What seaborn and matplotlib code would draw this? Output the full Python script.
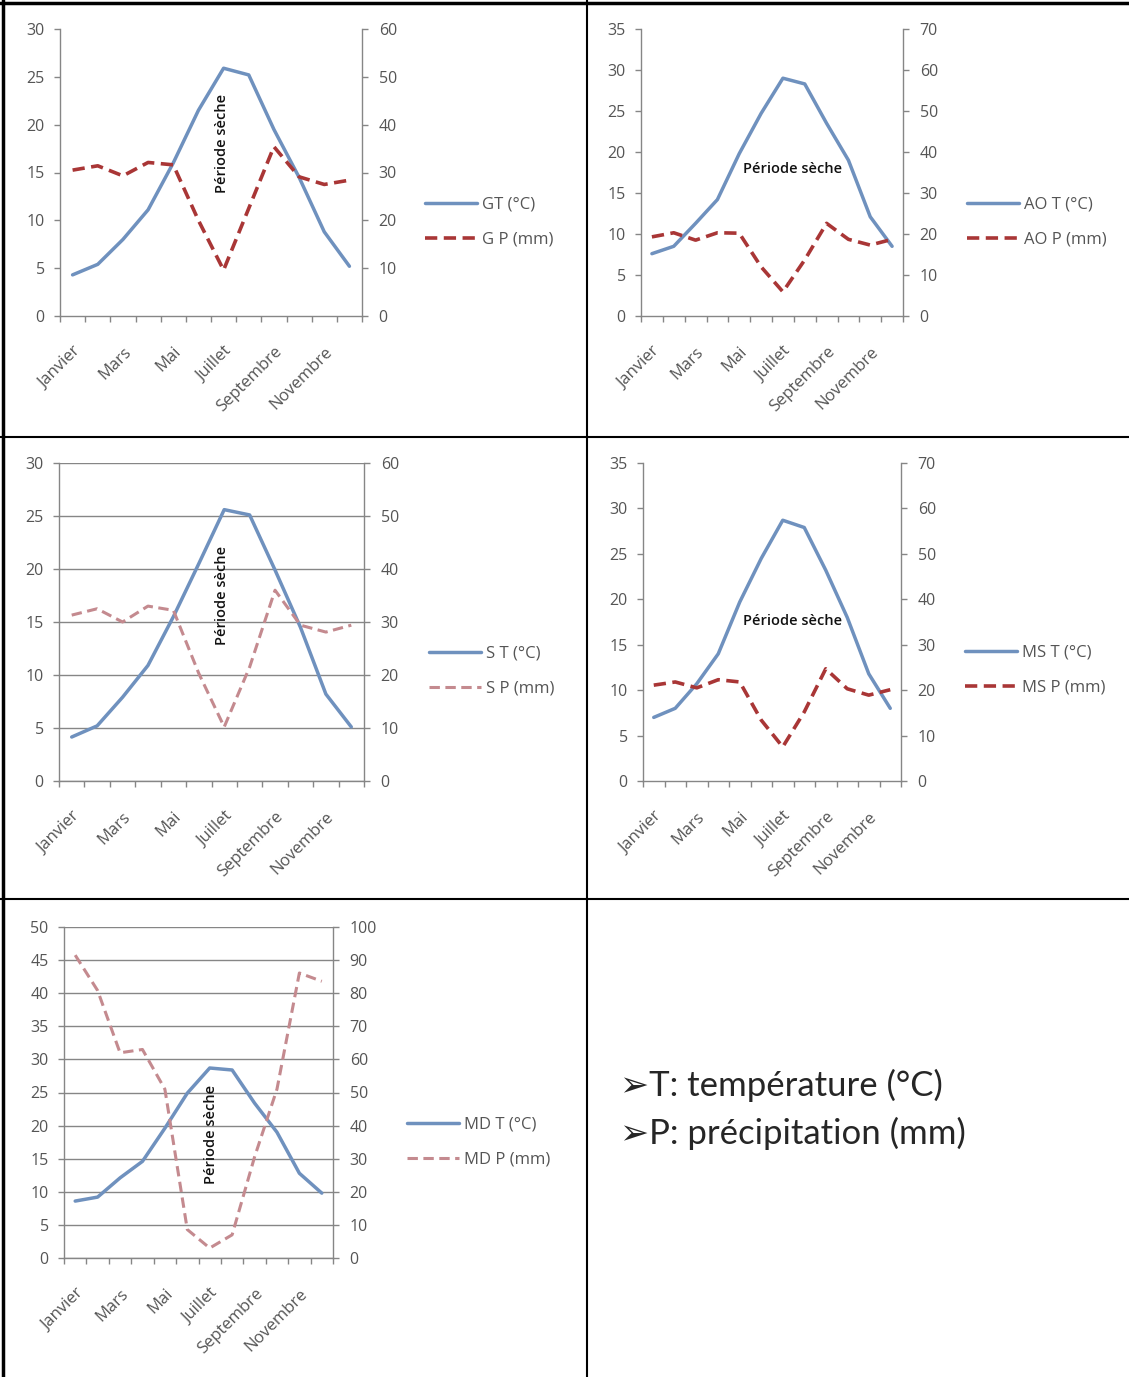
import numpy as np
import pandas as pd
import matplotlib
matplotlib.use("Agg")
import matplotlib.pyplot as plt
from matplotlib.lines import Line2D
import seaborn as sns

# ---------------- data ----------------
months = ["Janvier", "Février", "Mars", "Avril", "Mai", "Juin", "Juillet",
          "Août", "Septembre", "Octobre", "Novembre", "Décembre"]

G_T = [4.3, 5.4, 8.0, 11.1, 16.0, 21.5, 25.9, 25.2, 19.5, 14.5, 8.8, 5.2]
G_P = [30.5, 31.4, 29.3, 32.1, 31.6, 20.0, 9.6, 22.5, 35.4, 29.1, 27.5, 28.4]

AO_T = [7.6, 8.5, 11.3, 14.2, 19.8, 24.7, 29.0, 28.3, 23.5, 19.0, 12.1, 8.5]
AO_P = [19.3, 20.3, 18.5, 20.3, 20.2, 12.0, 5.9, 13.7, 22.6, 18.7, 17.3, 18.7]

S_T = [4.15, 5.2, 7.9, 10.9, 15.5, 20.5, 25.6, 25.1, 19.9, 14.5, 8.2, 5.1]
S_P = [31.3, 32.5, 30.0, 33.0, 32.2, 20.3, 10.2, 21.5, 36.0, 29.4, 28.1, 29.4]

MS_T = [7.0, 8.0, 10.7, 14.0, 19.7, 24.5, 28.7, 27.9, 23.2, 18.0, 11.8, 8.0]
MS_P = [21.1, 21.8, 20.5, 22.3, 21.8, 13.4, 7.5, 15.2, 24.7, 20.3, 18.9, 20.1]

MD_T = [8.6, 9.2, 12.1, 14.6, 19.6, 24.9, 28.7, 28.4, 23.4, 19.0, 12.8, 9.8]
MD_P = [91.5, 80.8, 62.0, 63.0, 51.0, 8.6, 3.0, 7.0, 30.5, 51.0, 86.1, 83.6]

t_labels = ["GT (°C)", "AO T (°C)", "S T (°C)", "MS T (°C)", "MD T (°C)"]
p_labels = ["G P (mm)", "AO P (mm)", "S P (mm)", "MS P (mm)", "MD P (mm)"]
t_max = [30, 35, 30, 35, 50]
p_max = [60, 70, 60, 70, 100]
annot = "Période sèche"
notes = ["➢T: température (°C)", "➢P: précipitation (mm)"]

# ---------------- style ----------------
sns.set_theme(style="white")
plt.rcParams["font.family"] = ["Open Sans", "DejaVu Sans"]

W, H = 1129, 1377
fig = plt.figure(figsize=(W / 100, H / 100), dpi=100)
fig.patch.set_facecolor("white")

T_COL = "#6F91BE"
P_DARK = "#A93636"
P_LIGHT = "#C48A8F"
AX_COL = "#868686"
TXT_COL = "#555555"
TICK_FS = 11.5
MONTH_FS = 12
LEG_FS = 12

panels = [
    dict(T=G_T, P=G_P, box=(60, 362, 29, 316), grid=False, pcol=P_DARK, plw=2.6,
         leg=(425, 222), ann=(0.536, 0.60, 90)),
    dict(T=AO_T, P=AO_P, box=(641, 903, 29, 316), grid=False, pcol=P_DARK, plw=2.6,
         leg=(967, 222), ann=(0.58, 0.512, 0)),
    dict(T=S_T, P=S_P, box=(59, 364, 463, 781), grid=True, pcol=P_LIGHT, plw=2.2,
         leg=(429, 671), ann=(0.534, 0.585, 90)),
    dict(T=MS_T, P=MS_P, box=(643, 901, 463, 781), grid=False, pcol=P_DARK, plw=2.6,
         leg=(965, 670), ann=(0.58, 0.503, 0)),
    dict(T=MD_T, P=MD_P, box=(64, 333, 927, 1258), grid=True, pcol=P_LIGHT, plw=2.2,
         leg=(407, 1142), ann=(0.546, 0.372, 90)),
]

x_idx = np.arange(len(months))

for i, pn in enumerate(panels):
    l, r, t, b = pn["box"]
    ax = fig.add_axes([l / W, 1 - b / H, (r - l) / W, (b - t) / H])
    ax2 = ax.twinx()

    df = pd.DataFrame({"mois": x_idx, "T": pn["T"], "P": pn["P"]})

    sns.lineplot(data=df, x="mois", y="T", ax=ax, color=T_COL, linewidth=2.5,
                 label=t_labels[i], legend=False)
    sns.lineplot(data=df, x="mois", y="P", ax=ax2, color=pn["pcol"],
                 linewidth=pn["plw"], linestyle=(0, (3.4, 1.8)),
                 label=p_labels[i], legend=False)

    ax.set_xlim(-0.5, len(months) - 0.5)
    ax.set_ylim(0, t_max[i])
    ax2.set_ylim(0, p_max[i])
    ax.set_yticks(np.arange(0, t_max[i] + 1, 5))
    ax2.set_yticks(np.arange(0, p_max[i] + 1, 10))
    ax.set_xticks(x_idx[::2])
    ax.set_xticklabels(months[::2], rotation=45, ha="right", va="top",
                       rotation_mode="anchor", fontsize=MONTH_FS)
    ax.set_xticks(np.arange(-0.5, len(months), 1), minor=True)
    ax.set_xlabel("")
    ax.set_ylabel("")
    ax2.set_ylabel("")

    for a in (ax, ax2):
        for s in a.spines.values():
            s.set_visible(False)
            s.set_color(AX_COL)
            s.set_linewidth(1.0)
        a.patch.set_alpha(0)
    ax.spines["left"].set_visible(True)
    ax.spines["bottom"].set_visible(True)
    ax2.spines["right"].set_visible(True)

    ax.tick_params(axis="y", which="major", direction="out", length=4, width=1,
                   color=AX_COL, pad=7, labelsize=TICK_FS, labelcolor=TXT_COL,
                   left=True, right=False)
    ax2.tick_params(axis="y", which="major", direction="out", length=4, width=1,
                    color=AX_COL, pad=8, labelsize=TICK_FS, labelcolor=TXT_COL,
                    right=True, left=False)
    ax.tick_params(axis="x", which="major", length=0, pad=20,
                   labelcolor=TXT_COL, bottom=True)
    ax.tick_params(axis="x", which="minor", direction="out", length=4, width=1,
                   color=AX_COL, bottom=True)

    if pn["grid"]:
        ax.yaxis.grid(True, color=AX_COL, linewidth=1.0)
        ax.set_axisbelow(True)
    else:
        ax.grid(False)
    ax2.grid(False)

    ax.text(pn["ann"][0], pn["ann"][1], annot, transform=ax.transAxes,
            rotation=pn["ann"][2], ha="center", va="center", fontsize=10.5,
            fontweight="semibold", color="#111111")

    h1, lb1 = ax.get_legend_handles_labels()
    h2, lb2 = ax2.get_legend_handles_labels()
    lx, ly = pn["leg"]
    fig.legend(h1 + h2, lb1 + lb2, loc="center left",
               bbox_to_anchor=(lx / W, 1 - ly / H), frameon=False,
               handlelength=3.1, handletextpad=0.35, labelspacing=1.15,
               borderpad=0, borderaxespad=0, fontsize=LEG_FS,
               labelcolor=TXT_COL)

# notes panel
for k, note in enumerate(notes):
    fig.text(620 / W, 1 - (1085 + 48 * k) / H, note, fontsize=25,
             family=["Lato", "DejaVu Sans"], va="center", ha="left",
             color="#262626")

# panel borders
def hline(y, x0, x1, lw):
    fig.add_artist(Line2D([x0 / W, x1 / W], [1 - y / H, 1 - y / H],
                          transform=fig.transFigure, color="black", linewidth=lw))

def vline(x, y0, y1, lw):
    fig.add_artist(Line2D([x / W, x / W], [1 - y0 / H, 1 - y1 / H],
                          transform=fig.transFigure, color="black", linewidth=lw))

hline(3, 0, W, 2.5)
hline(437, 0, W, 1.5)
hline(899, 0, W, 1.5)
vline(3, 0, H, 2.5)
vline(587, 0, H, 1.5)

fig.savefig("out.png", dpi=100, facecolor="white")
